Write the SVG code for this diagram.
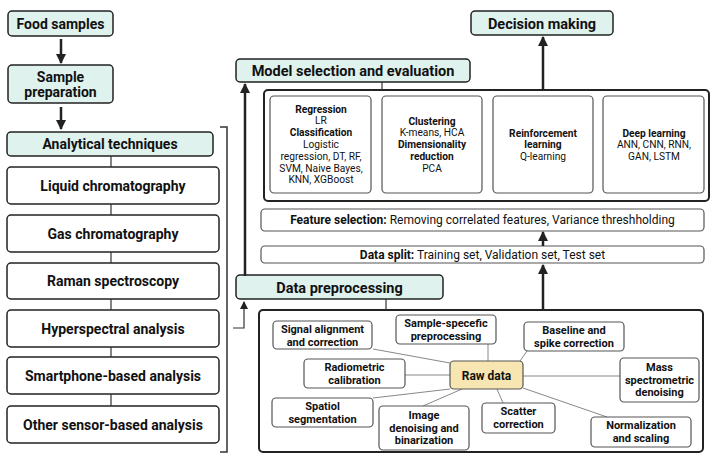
<svg xmlns="http://www.w3.org/2000/svg" width="715" height="464" viewBox="0 0 715 464">
<defs>
<marker id="ah" markerUnits="userSpaceOnUse" markerWidth="10" markerHeight="10" refX="9" refY="5" orient="auto">
<path d="M0,0 L10,5 L0,10 z" fill="#222"/>
</marker>
<marker id="ahs" markerUnits="userSpaceOnUse" markerWidth="8" markerHeight="8" refX="7" refY="4" orient="auto">
<path d="M0,0 L8,4 L0,8 z" fill="#222"/>
</marker>
<style>
text{font-family:Roboto,"Liberation Sans",Arial,sans-serif;fill:#111;}
.head{fill:#dff2ee;stroke:#222;stroke-width:1.5;}
.box{fill:#fff;stroke:#222;stroke-width:1.5;}
.inner{fill:#fff;stroke:#555;stroke-width:1.2;}
.cont{fill:#fff;stroke:#222;stroke-width:2;}
.raw{fill:#f8e6b2;stroke:#555;stroke-width:1.2;}
.ht{font-size:14.5px;font-weight:bold;text-anchor:middle;}
.lt{font-size:14px;font-weight:bold;text-anchor:middle;}
.bt{font-size:14px;font-weight:bold;text-anchor:middle;}
.mt{font-size:10.2px;text-anchor:middle;}
.mb{font-size:10.2px;font-weight:bold;}
.pt{font-size:11px;font-weight:bold;text-anchor:middle;}
.arr{stroke:#222;stroke-width:2.5;fill:none;}
.thin{stroke:#333;stroke-width:1.2;fill:none;}
.ray{stroke:#888;stroke-width:1;fill:none;}
</style>
</defs>

<g id="food-samples"><rect class="head" x="8" y="11" width="105" height="25" rx="4"/><text class="lt" x="60.5" y="28.5">Food samples</text></g>
<g id="sample-preparation"><rect class="head" x="8" y="65" width="105" height="38" rx="4"/><text class="lt" x="60.5" y="82">Sample</text><text class="lt" x="60.5" y="96.5">preparation</text></g>
<g id="analytical-techniques"><rect class="head" x="7" y="132" width="206" height="24" rx="4"/><text class="lt" x="110" y="149">Analytical techniques</text></g>
<g id="liquid-chromatography"><rect class="box" x="7" y="167" width="212" height="37" rx="4"/><text class="bt" x="113" y="190.5">Liquid chromatography</text></g>
<g id="gas-chromatography"><rect class="box" x="7" y="215" width="212" height="37" rx="4"/><text class="bt" x="113" y="238.5">Gas chromatography</text></g>
<g id="raman-spectroscopy"><rect class="box" x="7" y="263" width="212" height="36" rx="4"/><text class="bt" x="113" y="286">Raman spectroscopy</text></g>
<g id="hyperspectral-analysis"><rect class="box" x="7" y="310" width="212" height="37" rx="4"/><text class="bt" x="113" y="333.5">Hyperspectral analysis</text></g>
<g id="smartphone-based-analysis"><rect class="box" x="7" y="357" width="212" height="37" rx="4"/><text class="bt" x="113" y="380.5">Smartphone-based analysis</text></g>
<g id="other-sensor-based-analysis"><rect class="box" x="7" y="406" width="212" height="37" rx="4"/><text class="bt" x="113" y="429.5">Other sensor-based analysis</text></g>

<g id="model-selection"><rect class="head" x="236" y="59" width="234" height="23" rx="4"/><text class="ht" x="353" y="76">Model selection and evaluation</text></g>
<g id="decision-making"><rect class="head" x="471" y="11" width="142" height="24" rx="4"/><text class="ht" x="542" y="28.5">Decision making</text></g>

<g id="models">
<rect class="cont" x="264" y="90" width="445" height="111" rx="4"/>
<rect class="inner" x="270" y="96" width="101" height="97" rx="4"/>
<rect class="inner" x="382" y="96" width="100" height="97" rx="4"/>
<rect class="inner" x="493" y="96" width="100" height="97" rx="4"/>
<rect class="inner" x="603" y="96" width="101" height="97" rx="4"/>
<text class="mt" x="321" y="112.5"><tspan class="mb">Regression</tspan><tspan x="321" dy="11.8">LR</tspan><tspan x="321" dy="11.8" class="mb">Classification</tspan><tspan x="321" dy="11.8">Logistic</tspan><tspan x="321" dy="11.8">regression, DT, RF,</tspan><tspan x="321" dy="11.8">SVM, Naive Bayes,</tspan><tspan x="321" dy="11.8">KNN, XGBoost</tspan></text>
<text class="mt" x="432" y="124.5"><tspan class="mb">Clustering</tspan><tspan x="432" dy="11.8">K-means, HCA</tspan><tspan x="432" dy="11.8" class="mb">Dimensionality</tspan><tspan x="432" dy="11.8" class="mb">reduction</tspan><tspan x="432" dy="11.8">PCA</tspan></text>
<text class="mt" x="543" y="136.5"><tspan class="mb">Reinforcement</tspan><tspan x="543" dy="11.8" class="mb">learning</tspan><tspan x="543" dy="11.8">Q-learning</tspan></text>
<text class="mt" x="654" y="136.5"><tspan class="mb">Deep learning</tspan><tspan x="654" dy="11.8">ANN, CNN, RNN,</tspan><tspan x="654" dy="11.8">GAN, LSTM</tspan></text>
</g>

<g id="feature-selection"><rect class="inner" x="261" y="209" width="443" height="22" rx="4"/><text x="482.5" y="224" style="font-size:12px;text-anchor:middle"><tspan font-weight="bold">Feature selection:</tspan> Removing correlated features, Variance threshholding</text></g>
<g id="data-split"><rect class="inner" x="261" y="246" width="443" height="17" rx="4"/><text x="482.5" y="259" style="font-size:12px;text-anchor:middle"><tspan font-weight="bold">Data split:</tspan> Training set, Validation set, Test set</text></g>

<g id="data-preprocessing"><rect class="head" x="236" y="275" width="207" height="24" rx="4"/><text class="ht" x="339.5" y="292.5">Data preprocessing</text></g>

<g id="preprocessing-steps">
<rect class="cont" x="259" y="310" width="444" height="142" rx="4"/>
<g class="ray">
<line x1="373" y1="349" x2="450" y2="363"/>
<line x1="488" y1="344" x2="488" y2="361"/>
<line x1="520" y1="361" x2="527" y2="351"/>
<line x1="405" y1="375" x2="450" y2="375"/>
<line x1="523" y1="376" x2="620" y2="376"/>
<line x1="373" y1="398" x2="450" y2="389"/>
<line x1="423" y1="406" x2="462" y2="389"/>
<line x1="497" y1="389" x2="503" y2="403"/>
<line x1="523" y1="388" x2="607" y2="417"/>
</g>
<g id="raw-data"><rect class="raw" x="450" y="361" width="73" height="28" rx="4"/><text x="486.5" y="379.5" style="font-size:12px;font-weight:bold;text-anchor:middle">Raw data</text></g>
<g id="signal-alignment"><rect class="inner" x="273" y="321" width="99" height="28" rx="4"/><text class="pt" x="322.5" y="333">Signal alignment</text><text class="pt" x="322.5" y="345.5">and correction</text></g>
<g id="sample-specefic"><rect class="inner" x="396" y="315" width="100" height="29" rx="4"/><text class="pt" x="446" y="327">Sample-specefic</text><text class="pt" x="446" y="339.5">preprocessing</text></g>
<g id="baseline"><rect class="inner" x="524" y="322" width="100" height="29" rx="4"/><text class="pt" x="574" y="334">Baseline and</text><text class="pt" x="574" y="346.5">spike correction</text></g>
<g id="radiometric"><rect class="inner" x="304" y="359" width="101" height="29" rx="4"/><text class="pt" x="354.5" y="371">Radiometric</text><text class="pt" x="354.5" y="383.5">calibration</text></g>
<g id="mass-spectrometric"><rect class="inner" x="620" y="358" width="79" height="44" rx="4"/><text class="pt" x="659.5" y="371">Mass</text><text class="pt" x="659.5" y="383.5">spectrometric</text><text class="pt" x="659.5" y="396">denoising</text></g>
<g id="spatiol-segmentation"><rect class="inner" x="272" y="398" width="101" height="29" rx="4"/><text class="pt" x="322.5" y="410">Spatiol</text><text class="pt" x="322.5" y="422.5">segmentation</text></g>
<g id="image-denoising"><rect class="inner" x="379" y="406" width="90" height="44" rx="4"/><text class="pt" x="424" y="419">Image</text><text class="pt" x="424" y="431.5">denoising and</text><text class="pt" x="424" y="444">binarization</text></g>
<g id="scatter-correction"><rect class="inner" x="482" y="403" width="73" height="30" rx="4"/><text class="pt" x="518.5" y="415">Scatter</text><text class="pt" x="518.5" y="427.5">correction</text></g>
<g id="normalization"><rect class="inner" x="591" y="417" width="100" height="30" rx="4"/><text class="pt" x="641" y="429">Normalization</text><text class="pt" x="641" y="441.5">and scaling</text></g>
</g>

<g id="connectors">
<line class="arr" x1="61" y1="39" x2="61" y2="63" marker-end="url(#ah)"/>
<line class="arr" x1="61" y1="107" x2="61" y2="129" marker-end="url(#ah)"/>
<g class="thin">
<line x1="111" y1="156" x2="111" y2="167"/>
<line x1="111" y1="204" x2="111" y2="215"/>
<line x1="111" y1="252" x2="111" y2="263"/>
<line x1="111" y1="299" x2="111" y2="310"/>
<line x1="111" y1="347" x2="111" y2="357"/>
<line x1="111" y1="394" x2="111" y2="406"/>
<path d="M220,127 H227 V452 H220" stroke-width="1.5"/>
<path d="M233,328 H244 V302" marker-end="url(#ahs)"/>
<line x1="382" y1="82" x2="382" y2="90"/>
<line x1="386" y1="299" x2="386" y2="310"/>
</g>
<line class="arr" x1="245" y1="276" x2="245" y2="84" marker-end="url(#ah)"/>
<line class="arr" x1="543" y1="90" x2="543" y2="37" marker-end="url(#ah)"/>
<line class="arr" x1="543" y1="246" x2="543" y2="232" marker-end="url(#ah)"/>
<line class="arr" x1="543" y1="309" x2="543" y2="265" marker-end="url(#ah)"/>
</g>
</svg>
